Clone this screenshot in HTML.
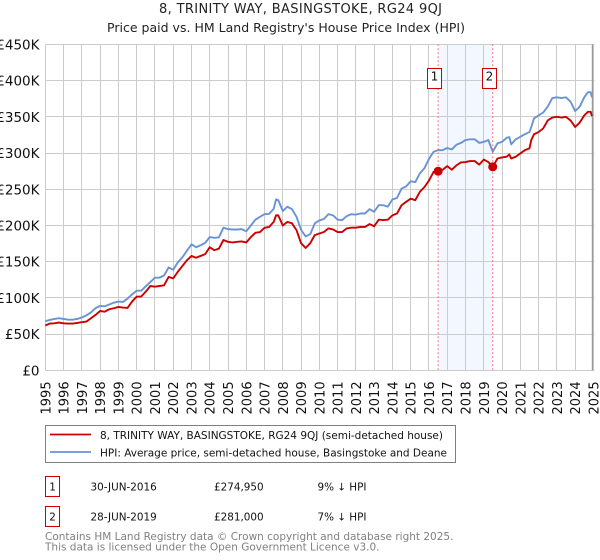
<!DOCTYPE html>
<html lang="en">
<head>
<meta charset="utf-8">
<title>8, TRINITY WAY, BASINGSTOKE, RG24 9QJ</title>
<style>
html,body{margin:0;padding:0;background:#fff;}
#stage{position:relative;width:600px;height:560px;overflow:hidden;}
svg{position:absolute;left:0;top:0;font-family:"DejaVu Sans",sans-serif;}
</style>
</head>
<body>
<div id="stage">
<svg id="chart" width="600" height="560" viewBox="0 0 600 560" xmlns="http://www.w3.org/2000/svg">
  <text x="159" y="13" font-size="13" fill="#222" textLength="283" lengthAdjust="spacing">8, TRINITY WAY, BASINGSTOKE, RG24 9QJ</text>
  <text x="107" y="32" font-size="12.5" fill="#222" textLength="358" lengthAdjust="spacing">Price paid vs. HM Land Registry's House Price Index (HPI)</text>
  <g id="bands"></g>
  <g id="grid"></g>
  <g id="series"></g>
  <g id="annotations"></g>
  <g id="axes"></g>

  <g>
    <rect x="45.5" y="425.5" width="410" height="37" fill="#fff" stroke="#808080" stroke-width="1"/>
    <line x1="50" x2="91" y1="434.5" y2="434.5" stroke="#cc0000" stroke-width="1.8"/>
    <text x="100" y="439" font-size="10.5" fill="#111" textLength="343" lengthAdjust="spacing">8, TRINITY WAY, BASINGSTOKE, RG24 9QJ (semi-detached house)</text>
    <line x1="50" x2="91" y1="452" y2="452" stroke="#6a93d4" stroke-width="1.8"/>
    <text x="100" y="456.5" font-size="10.5" fill="#111" textLength="347" lengthAdjust="spacing">HPI: Average price, semi-detached house, Basingstoke and Deane</text>
  </g>

  <g font-size="10.4" fill="#111">
    <rect x="45.5" y="476.5" width="14" height="20" fill="#fff" stroke="#cc0000"/>
    <text x="52.5" y="490.5" text-anchor="middle">1</text>
    <text x="90.5" y="490.5">30-JUN-2016</text>
    <text x="214" y="490.5">£274,950</text>
    <text x="317.5" y="490.5">9% ↓ HPI</text>
    <rect x="45.5" y="506.5" width="14" height="20" fill="#fff" stroke="#cc0000"/>
    <text x="52.5" y="520.5" text-anchor="middle">2</text>
    <text x="90.5" y="520.5">28-JUN-2019</text>
    <text x="214" y="520.5">£281,000</text>
    <text x="317.5" y="520.5">7% ↓ HPI</text>
  </g>

  <g font-size="10.5" fill="#808080">
    <text x="45" y="540">Contains HM Land Registry data © Crown copyright and database right 2025.</text>
    <text x="45" y="550.5">This data is licensed under the Open Government Licence v3.0.</text>
  </g>
</svg>
</div>
<script>
const yearTicks = [1995,1996,1997,1998,1999,2000,2001,2002,2003,2004,2005,2006,2007,2008,2009,2010,2011,2012,2013,2014,2015,2016,2017,2018,2019,2020,2021,2022,2023,2024,2025];
const valueTicks = [0,50,100,150,200,250,300,350,400,450];
const valueTickLabels = ["£0","£50K","£100K","£150K","£200K","£250K","£300K","£350K","£400K","£450K"];

const dates = [
1995,1995.25,1995.5,1995.75,
1996,1996.25,1996.5,1996.75,
1997,1997.25,1997.5,1997.75,
1998,1998.25,1998.5,1998.75,
1999,1999.25,1999.5,1999.75,
2000,2000.25,2000.5,2000.75,
2001,2001.25,2001.5,2001.75,
2002,2002.25,2002.5,2002.75,
2003,2003.25,2003.5,2003.75,
2004,2004.25,2004.5,2004.75,
2005,2005.25,2005.5,2005.75,
2006,2006.25,2006.5,2006.75,
2007,2007.25,2007.5,2007.63,2007.75,
2008,2008.25,2008.5,2008.75,
2009,2009.25,2009.5,2009.75,
2010,2010.25,2010.5,2010.75,
2011,2011.25,2011.5,2011.75,
2012,2012.25,2012.5,2012.75,
2013,2013.25,2013.5,2013.75,
2014,2014.25,2014.5,2014.75,
2015,2015.25,2015.5,2015.75,
2016,2016.25,2016.5,2016.75,
2017,2017.25,2017.5,2017.75,
2018,2018.25,2018.5,2018.75,
2019,2019.25,2019.49,2019.75,
2020,2020.25,2020.4,2020.5,2020.75,
2021,2021.25,2021.5,2021.6,2021.75,
2022,2022.25,2022.5,2022.75,
2023,2023.25,2023.5,2023.75,
2024,2024.25,2024.5,2024.7,2024.85,2024.92
];

const hpiValues = [
68,69.7,71,72,
71,70,70,71,
73,76,80,86,
89,88.5,91,93.5,
95,94.5,99,105,
110,110,116,122,
128,128,131,142,
139,149,156,165,
174,170,172.7,176,
184,183,183.5,197,
195,194.5,194.5,195,
192,200,208,212,
215.6,216,223,236,235,
220,226,222.5,212,
194,185,188,203,
207,209,215.7,214,
208,207.5,213,215.7,
215,216.6,216.6,222.6,
219,228,228,226,
236,238,251,254,
261,260,272,279,
292,301.7,304,304,
307,305,311.5,314,
318,319,319,314,
315.5,318,301.7,313.5,
315.5,321,322,312,319,
322.5,326,329,336,348,
352,356,364,376,
377,376,377,371,
358,364,377,384,384,377
];

const pricePaidValues = [
62,64.7,65,66,
65,64.7,64.7,65.6,
66.5,67.4,72,76.6,
82,81,84.4,85.8,
87.6,86.7,86.2,95,
101.8,102,108.7,116.5,
115.6,116.5,117.4,129,
127,136,144,152,
158,155.5,158,160.5,
170,166,168,180,
177.5,176.6,177.5,178,
176.6,184,190,191,
196.8,198,205,214,214,
200,205,203,193.6,
175.6,169,175.6,186.7,
189,191,196,194.6,
191,191,196,197,
197,198,198,202,
199,208,207.5,208,
214,216.6,228,232.7,
237,235,246.5,253,
262,274,275,277,
282,277,283,287,
287.6,289,289,284,
291,287.6,281,292.5,
294,295,298,292.5,295,
299.5,304,306.5,318,326,
329,334,345,349,
350,349,350,345,
336,342,352,357,357,351
];

const saleDates = [2016.5, 2019.49];
const salePrices = [274.95, 281];
const saleLabels = ["1","2"];

const SVGNS = "http://www.w3.org/2000/svg";
const plotLeft = 45.3, plotRight = 593.4, plotTop = 44.4, plotBottom = 370.4;
const xOf = y => plotLeft + (y - 1995) / 30 * (plotRight - plotLeft);
const yOf = v => plotBottom - v / 450 * (plotBottom - plotTop);
const snap = p => Math.floor(p) + 0.5;

function make(tag, attrs, parent) {
  const el = document.createElementNS(SVGNS, tag);
  for (const k in attrs) el.setAttribute(k, attrs[k]);
  parent.appendChild(el);
  return el;
}

const bands = document.getElementById("bands");
const grid = document.getElementById("grid");
const seriesG = document.getElementById("series");
const ann = document.getElementById("annotations");
const axes = document.getElementById("axes");

const band = make("rect", {x: xOf(saleDates[0]), y: plotTop, width: xOf(saleDates[1]) - xOf(saleDates[0]), height: plotBottom - plotTop, fill: "#f3f7ff"}, bands);



yearTicks.forEach(y => {
  const p = snap(xOf(y));
  const g = make("line", {x1: p, x2: p, y1: plotTop, y2: plotBottom, stroke: "#cccccc", "stroke-width": 1, "shape-rendering": "crispEdges"}, grid);
  
  
  const t = make("text", {transform: "translate(" + (xOf(y) + 5) + ",414.5) rotate(-90)", "font-size": 13, fill: "#111"}, axes);
  t.textContent = y;
  
  
});

valueTicks.forEach((v, i) => {
  const p = snap(yOf(v));
  const g = make("line", {x1: plotLeft, x2: plotRight + 1, y1: p, y2: p, stroke: "#cccccc", "stroke-width": 1, "shape-rendering": "crispEdges"}, grid);
  
  
  const t = make("text", {x: 39.5, y: yOf(v) + 5, "text-anchor": "end", "font-size": 13.5, fill: "#111"}, axes);
  t.textContent = valueTickLabels[i];
  
  
});

const edge = make("line", {x1: 592.5, x2: 592.5, y1: plotTop, y2: plotBottom, stroke: "#999999", "stroke-width": 1.4}, grid);



function pathFrom(values) {
  return values.map((v, i) => (i ? "L" : "M") + xOf(dates[i]).toFixed(2) + " " + yOf(v).toFixed(2)).join("");
}

const hpiLine = make("path", {d: pathFrom(hpiValues), fill: "none", stroke: "#6a93d4", "stroke-width": 1.9, "stroke-linejoin": "round"}, seriesG);



const priceLine = make("path", {d: pathFrom(pricePaidValues), fill: "none", stroke: "#cc0000", "stroke-width": 1.9, "stroke-linejoin": "round"}, seriesG);



saleDates.forEach((d, i) => {
  const px = xOf(d);
  const vl = make("line", {x1: px, x2: px, y1: plotTop, y2: plotBottom, stroke: "#ff5a5a", "stroke-width": 1, "stroke-dasharray": "1.5,2.5"}, ann);
  
  
  const dot = make("circle", {cx: px, cy: yOf(salePrices[i]), r: 4.5, fill: "#cc0000"}, ann);
  
  
  const box = make("rect", {x: snap(px - 10.5), y: 68.5, width: 14, height: 20, fill: "#fff", stroke: "#cc0000"}, ann);
  
  
  const lab = make("text", {x: snap(px - 10.5) + 7, y: 80.5, "text-anchor": "middle", "font-size": 12, fill: "#111"}, ann);
  lab.textContent = saleLabels[i];
  
  
});
</script>
</body>
</html>
